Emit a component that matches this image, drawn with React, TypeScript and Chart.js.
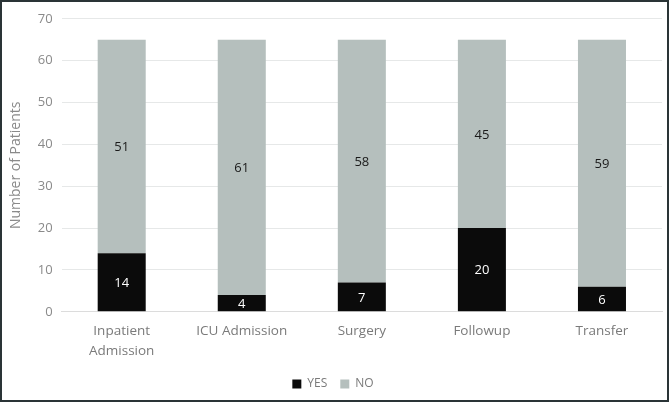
import React, { useEffect, useRef } from "react";
import { Chart, registerables } from "chart.js";

Chart.register(...registerables);

const categories: (string | string[])[] = [["Inpatient", "Admission"], "ICU Admission", "Surgery", "Followup", "Transfer"];
const yesValues = [14, 4, 7, 20, 6];
const noValues = [51, 61, 58, 45, 59];

const labelPlugin = {
  id: "barLabels",
  afterDatasetsDraw(chart: any) {
    const ctx = chart.ctx;
    ctx.save();
    ctx.font = "13px 'Open Sans'";
    ctx.textAlign = "center";
    ctx.textBaseline = "middle";
    chart.data.datasets.forEach((ds: any, di: number) => {
      const meta = chart.getDatasetMeta(di);
      meta.data.forEach((bar: any, i: number) => {
        const v = ds.data[i];
        const y = (bar.y + bar.base) / 2;
        ctx.fillStyle = di === 0 ? "#ffffff" : "#1a1a1a";
        ctx.fillText(String(v), bar.x, y + 1);
      });
    });
    ctx.restore();
  },
};

export default function App() {
  const ref = useRef<HTMLCanvasElement>(null);
  useEffect(() => {
    const chart = new Chart(ref.current!, {
      type: "bar",
      data: {
        labels: categories,
        datasets: [
          { label: "YES", data: yesValues, backgroundColor: "#0b0b0b", barPercentage: 0.8, categoryPercentage: 0.5 },
          { label: "NO", data: noValues, backgroundColor: "#b5bfbd", barPercentage: 0.8, categoryPercentage: 0.5 },
        ],
      },
      options: {
        animation: false,
        responsive: true,
        maintainAspectRatio: false,
        layout: { padding: { top: 10, right: 5, left: 2, bottom: 0 } },
        plugins: {
          legend: {
            position: "bottom",
            labels: { boxWidth: 9, boxHeight: 9, color: "#7a7a7a", font: { family: "'Open Sans'", size: 12 }, padding: 13 },
          },
          tooltip: { enabled: false },
        },
        scales: {
          x: {
            stacked: true,
            grid: { display: false },
            border: { color: "#dcdcdc" },
            ticks: { color: "#7a7a7a", font: { family: "'Open Sans'", size: 13.5, lineHeight: 1.45 }, padding: 2 },
            afterFit: (scale: any) => { scale.height += 2; },
          },
          y: {
            stacked: true,
            min: 0,
            max: 70,
            ticks: { stepSize: 10, color: "#8a8a8a", font: { family: "'Open Sans'", size: 13 }, padding: 9 },
            grid: { color: "#e6e8e8", drawTicks: false },
            border: { display: false },
            title: { display: true, text: "Number of Patients", color: "#8a8a8a", font: { family: "'Open Sans'", size: 14 } },
          },
        },
      },
      plugins: [labelPlugin],
    });
    return () => chart.destroy();
  }, []);
  return (
    <div style={{ position: "fixed", left: 0, top: 0, width: 669, height: 402, boxSizing: "border-box", border: "2px solid #2a3436", background: "#fff" }}>
      <canvas ref={ref} />
    </div>
  );
}
